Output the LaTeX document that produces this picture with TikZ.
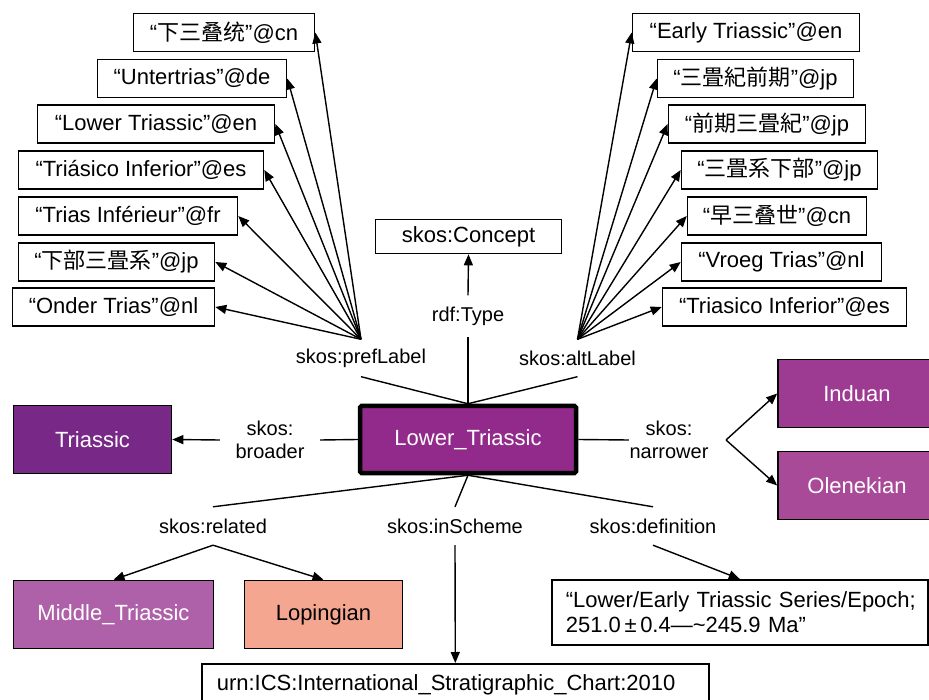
\documentclass[tikz,border=0pt]{standalone}
\usepackage{fontspec}
\setmainfont{Liberation Sans}
\newfontfamily\cjksc{Noto Sans CJK SC}
\newfontfamily\cjkjp{Noto Sans CJK JP}
\usetikzlibrary{arrows.meta}

\definecolor{triassicc}{RGB}{120,40,135}
\definecolor{lowerc}{RGB}{145,42,138}
\definecolor{induanc}{RGB}{157,58,145}
\definecolor{olenekc}{RGB}{168,74,152}
\definecolor{middlec}{RGB}{174,96,168}
\definecolor{lopingc}{RGB}{245,166,144}

\begin{document}
\begin{tikzpicture}[x=1pt,y=-1pt,
  lit/.style={draw, line width=1.6pt, fill=white, inner sep=0pt,
    minimum height=38pt, font=\fontsize{22}{26}\selectfont},
  res/.style={draw, line width=1.6pt, inner sep=0pt, minimum height=68pt,
    text=white, font=\fontsize{22}{26}\selectfont},
  rel/.style={inner sep=0pt, align=center, font=\fontsize{20}{23}\selectfont},
  link/.style={line width=1.4pt},
  arr/.style={line width=1.4pt, -{Triangle[length=11pt,width=9pt]}},
]
\clip (0,0) rectangle (929,700);
\fill[white] (0,0) rectangle (929,700);

% central concept
\node[res, fill=lowerc, line width=4.5pt, rounded corners=1.5pt,
  minimum width=216pt, minimum height=67pt] (LT) at (468,439.5) {Lower\_Triassic};

% type
\node[lit, minimum width=186pt, minimum height=34pt] (concept) at (468.5,236.5) {skos:Concept};
\node[rel, minimum height=41pt] (rdf) at (468,316) {rdf:Type};
\draw[link] (LT.north) -- (rdf.south);
\draw[arr] (rdf.north) -- (concept.south);

% preferred labels
\node[rel, minimum height=37pt] (pref) at (361,358) {skos:prefLabel};
\node[lit, minimum width=181pt] (l1) at (224,32.5) {“{\cjksc 下三叠统}”@cn};
\node[lit, minimum width=189pt] (l2) at (192,78.5) {“Untertrias”@de};
\node[lit, minimum width=237pt] (l3) at (156,124) {“Lower Triassic”@en};
\node[lit, minimum width=245pt] (l4) at (141,170) {“Triásico Inferior”@es};
\node[lit, minimum width=219pt] (l5) at (128,216) {“Trias Inférieur”@fr};
\node[lit, minimum width=196pt] (l6) at (116.5,262) {“{\cjkjp 下部三畳系}”@jp};
\node[lit, minimum width=202pt] (l7) at (113.5,307) {“Onder Trias”@nl};
\draw[link] (LT.north) -- (pref.south);
\foreach \b in {l1,l2,l3,l4,l5,l6,l7}
  \draw[arr] (pref.north) -- (\b.east);

% alternative labels
\node[rel, minimum height=37pt] (alt) at (577.5,358) {skos:altLabel};
\node[lit, minimum width=227pt] (r1) at (746,32.5) {“Early Triassic”@en};
\node[lit, minimum width=196pt] (r2) at (755.5,78.5) {“{\cjkjp 三畳紀前期}”@jp};
\node[lit, minimum width=197pt] (r3) at (767,124) {“{\cjkjp 前期三畳紀}”@jp};
\node[lit, minimum width=196pt] (r4) at (779.5,170) {“{\cjkjp 三畳系下部}”@jp};
\node[lit, minimum width=179pt] (r5) at (777,216) {“{\cjksc 早三叠世}”@cn};
\node[lit, minimum width=200pt] (r6) at (781.5,262) {“Vroeg Trias”@nl};
\node[lit, minimum width=244pt] (r7) at (784.5,307) {“Triasico Inferior”@es};
\draw[link] (LT.north) -- (alt.south);
\foreach \b in {r1,r2,r3,r4,r5,r6,r7}
  \draw[arr] (alt.north) -- (\b.west);

% broader
\node[res, fill=triassicc, minimum width=158pt] (tri) at (92.5,439.5) {Triassic};
\node[rel, minimum width=100pt] (brd) at (270,440) {skos:\\broader};
\draw[link] (LT.west) -- (brd.east);
\draw[arr] (brd.west) -- (tri.east);

% narrower
\node[res, fill=induanc, minimum width=158pt] (ind) at (857,393.5) {Induan};
\node[res, fill=olenekc, minimum width=158pt] (ole) at (857,485.5) {Olenekian};
\node[rel, minimum width=80pt] (nrw) at (669,440) {skos:\\narrower};
\coordinate (nsplit) at (726,440);
\draw[link] (LT.east) -- (nrw.west);
\draw[arr] (nsplit) -- (ind.west);
\draw[arr] (nsplit) -- (ole.west);

% related
\node[res, fill=middlec, minimum width=200pt] (mid) at (113.5,614.5) {Middle\_Triassic};
\node[res, fill=lopingc, text=black, minimum width=158pt] (lop) at (323.5,614.5) {Lopingian};
\node[rel, minimum height=38pt] (rlt) at (213,526) {skos:related};
\draw[link] (LT.south) -- (rlt.north);
\draw[arr] (rlt.south) -- (mid.north);
\draw[arr] (rlt.south) -- (lop.north);

% scheme
\node[lit, anchor=north west, inner xsep=15pt, text width=477pt, align=left,
  minimum height=42pt] (urn) at (201,663) {urn:ICS:International\_Stratigraphic\_Chart:2010};
\node[rel, minimum height=38pt] (isc) at (455,526) {skos:inScheme};
\draw[link] (LT.south) -- (isc.north);
\draw[arr] (isc.south) -- (urn.north);

% definition
\node[lit, anchor=north west, inner xsep=14pt, text width=348pt, align=left,
  minimum height=65pt, font=\fontsize{22}{25}\selectfont] (def) at (551,579)
  {\mbox{“Lower/Early Triassic Series/Epoch;}\\\mbox{251.0\,±\,0.4—\textasciitilde245.9 Ma”}};
\node[rel, minimum height=38pt] (dfn) at (653,526) {skos:definition};
\draw[link] (LT.south) -- (dfn.north);
\draw[arr] (dfn.south) -- (def.north);
\end{tikzpicture}
\end{document}
